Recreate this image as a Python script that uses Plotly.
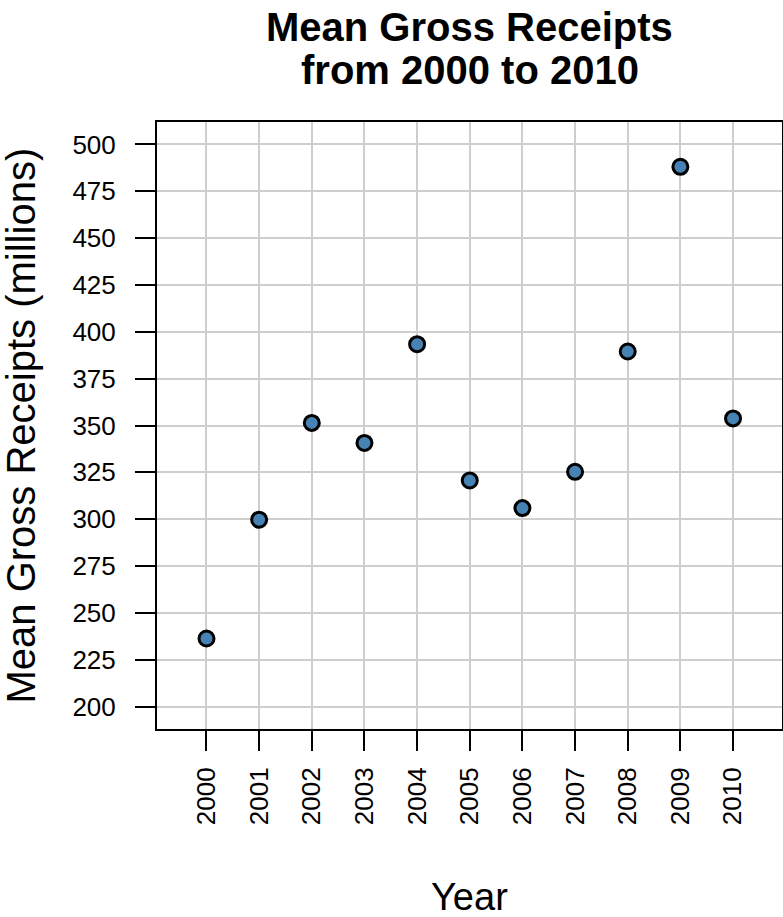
import plotly.graph_objects as go

# Mean gross receipts per year (millions)
years = [2000, 2001, 2002, 2003, 2004, 2005, 2006, 2007, 2008, 2009, 2010]
mean_gross = [236.3, 299.7, 351.4, 340.7, 393.4, 320.7, 305.9, 325.3, 389.5, 488.1, 353.8]

y_ticks = [200, 225, 250, 275, 300, 325, 350, 375, 400, 425, 450, 475, 500]
x_tick_labels = [str(y) for y in years]

title_lines = ["Mean Gross Receipts", "from 2000 to 2010"]

FONT = "Liberation Sans, Arial, Helvetica, sans-serif"

fig = go.Figure()
fig.add_trace(go.Scatter(
    x=years,
    y=mean_gross,
    mode="markers",
    marker=dict(size=15, color="#4682B4",
                line=dict(color="black", width=3)),
    showlegend=False,
    hoverinfo="x+y",
))

axis_common = dict(
    showline=True, linecolor="black", linewidth=2, mirror=True,
    showgrid=True, gridcolor="#CECECE", gridwidth=1.5,
    ticks="outside", ticklen=20, tickwidth=2, tickcolor="black",
    tickfont=dict(family=FONT, size=26, color="black"),
    zeroline=False,
)

fig.update_xaxes(
    range=[1999.06, 2010.93],
    tickmode="array", tickvals=years, ticktext=x_tick_labels,
    tickangle=-90, ticklabelstandoff=6,
    **axis_common,
)
fig.update_yaxes(
    range=[188, 512],
    tickmode="array", tickvals=y_ticks,
    ticktext=[str(v) for v in y_ticks],
    ticklabelstandoff=14,
    **axis_common,
)

# two-line bold title, lines set close together
title_annots = [
    dict(text=f"<b>{line}</b>", x=0.5, xref="paper", y=1, yref="paper",
         xanchor="center", yanchor="middle", yshift=shift,
         showarrow=False,
         font=dict(family=FONT, size=40, color="black"))
    for line, shift in zip(title_lines, [122 - 27, 122 - 70])
]

fig.update_layout(
    width=783, height=917,
    margin=dict(l=157, r=1, t=122, b=188, autoexpand=False),
    paper_bgcolor="white", plot_bgcolor="white",
    annotations=title_annots + [
        dict(text="Year", x=0.5, xref="paper", y=0, yref="paper",
             xanchor="center", yanchor="middle", yshift=-168,
             showarrow=False,
             font=dict(family=FONT, size=38, color="black")),
        dict(text="Mean Gross Receipts (millions)", x=0, xref="paper",
             y=0.5, yref="paper", xanchor="center", yanchor="middle",
             xshift=-137, textangle=-90, showarrow=False,
             font=dict(family=FONT, size=40, color="black")),
    ],
)

fig.write_html("out.html")
